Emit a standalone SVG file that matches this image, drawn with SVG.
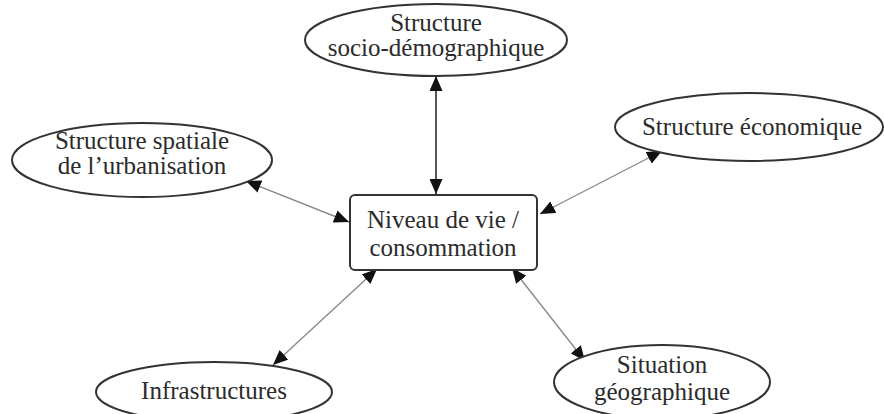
<svg xmlns="http://www.w3.org/2000/svg" width="884" height="414" viewBox="0 0 884 414">
<style>
text{font-family:"Liberation Serif","Times New Roman",serif;font-size:25px;fill:#2b2b2b;text-anchor:middle}
.node{fill:#fff;stroke:#333;stroke-width:2}
.edge{stroke:#8a8a8a;stroke-width:1.4;fill:none;marker-start:url(#ah);marker-end:url(#ah)}
.edge.main{stroke:#555;stroke-width:2}
</style>
<defs>
<marker id="ah" viewBox="0 0 15 13" refX="15" refY="6.5" markerWidth="15" markerHeight="13" markerUnits="userSpaceOnUse" orient="auto-start-reverse">
<path d="M0,0 L15,6.5 L0,13 z" fill="#111"/>
</marker>
</defs>
<rect width="884" height="414" fill="#fff"/>
<g id="connectors">
<line class="edge main" x1="436" y1="76" x2="436" y2="194"/>
<line class="edge" x1="246" y1="181" x2="349" y2="222"/>
<line class="edge" x1="540" y1="214" x2="662" y2="151"/>
<line class="edge" x1="377" y1="269" x2="273" y2="365"/>
<line class="edge" x1="512" y1="268" x2="585" y2="361"/>
</g>
<g id="n-socio">
<ellipse class="node" cx="436" cy="40" rx="131" ry="36"/>
<text x="436" y="31">Structure</text>
<text x="436" y="56">socio-démographique</text>
</g>
<g id="n-spatiale">
<ellipse class="node" cx="142" cy="160" rx="130" ry="37"/>
<text x="142" y="149">Structure spatiale</text>
<text x="142" y="174">de l’urbanisation</text>
</g>
<g id="n-economique">
<ellipse class="node" cx="749" cy="127" rx="134" ry="34"/>
<text x="752" y="135">Structure économique</text>
</g>
<g id="n-niveau">
<rect class="node" x="350" y="195" width="187" height="75" rx="5"/>
<text x="443" y="228">Niveau de vie /</text>
<text x="443" y="256">consommation</text>
</g>
<g id="n-infra">
<ellipse class="node" cx="214" cy="392" rx="118" ry="30"/>
<text x="214" y="399">Infrastructures</text>
</g>
<g id="n-situation">
<ellipse class="node" cx="662" cy="382" rx="108" ry="37"/>
<text x="662" y="373">Situation</text>
<text x="662" y="400">géographique</text>
</g>
</svg>
